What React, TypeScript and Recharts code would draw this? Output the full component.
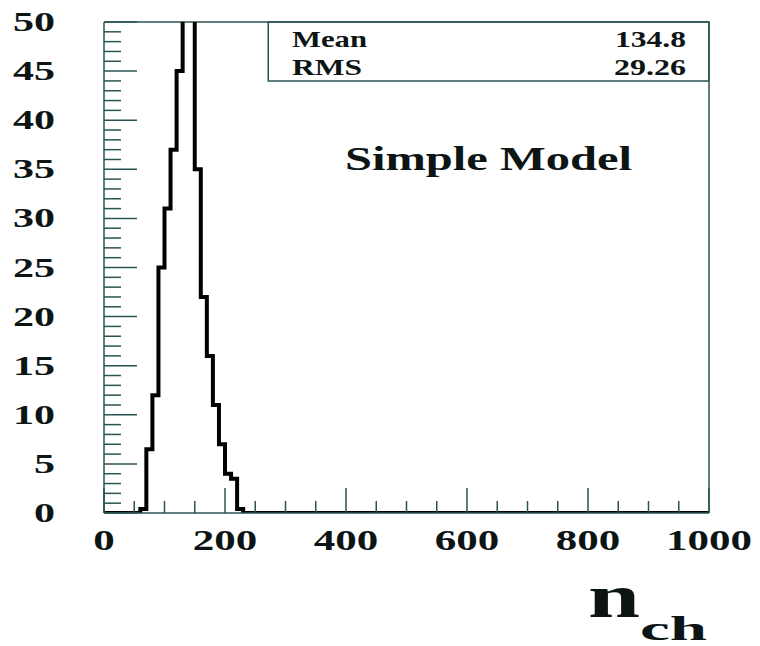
import { ComposedChart, Line, XAxis, YAxis, ReferenceLine, ReferenceArea } from "recharts";

// histogram of charged multiplicity, 10-wide bins (left edge -> content)
const binLeft = [0, 60, 70, 80, 90, 100, 110, 120, 130, 140, 150, 160, 170, 180, 190, 200, 210, 220, 230];
const binCount = [0, 0.4, 6.5, 12, 25, 31, 37, 45, 64, 62, 35, 22, 16, 11, 7, 4, 3.5, 0.4, 0];
const X_MAX = 1000;

const xTicks = [0, 50, 100, 150, 200, 250, 300, 350, 400, 450, 500, 550, 600, 650, 700, 750, 800, 850, 900, 950, 1000];
const xLabelEvery = 200;
const yTicks = Array.from({ length: 51 }, (_, i) => i);
const yLabelEvery = 5;

const statsLabels = ["Mean", "RMS"];
const statsValues = ["134.8", "29.26"];
const title = "Simple Model";

const data = binLeft.map((x, i) => ({ x, count: binCount[i] })).concat([{ x: X_MAX, count: 0 }]);

const AXIS = "#2b5353";
const FONT = "'Liberation Serif', 'Times New Roman', serif";
const INK = "#0d1414";

const YTick = (props: any) => {
  const { x, y, payload } = props;
  const v = payload.value;
  const major = v % yLabelEvery === 0;
  return (
    <g>
      <line x1={x} x2={x + (major ? 33 : 17)} y1={y} y2={y} stroke={AXIS} strokeWidth={1.5} />
      {major && (
        <text
          x={x - 49}
          y={y}
          dy={9}
          textAnchor="end"
          fontFamily={FONT}
          fontWeight="bold"
          fontSize={27}
          fill={INK}
          textLength={String(v).length * 21}
          lengthAdjust="spacingAndGlyphs"
        >
          {v}
        </text>
      )}
    </g>
  );
};

const XTick = (props: any) => {
  const { x, y, payload } = props;
  const v = payload.value;
  const major = v % xLabelEvery === 0;
  return (
    <g>
      <line x1={x} x2={x} y1={y} y2={y - (major ? 25 : 12)} stroke={AXIS} strokeWidth={1.5} />
      {major && (
        <text
          x={x}
          y={y + 37}
          textAnchor="middle"
          fontFamily={FONT}
          fontWeight="bold"
          fontSize={29}
          fill={INK}
          textLength={String(v).length * 21.5}
          lengthAdjust="spacingAndGlyphs"
        >
          {v}
        </text>
      )}
    </g>
  );
};

const txt = { fontFamily: FONT, fontWeight: "bold" as const, fill: INK, lengthAdjust: "spacingAndGlyphs" };

export default function App() {
  return (
    <div style={{ width: 760, height: 646, background: "#fff" }}>
      <style>{`body{margin:0}`}</style>
      <ComposedChart width={760} height={646} data={data} margin={{ top: 22, right: 51, bottom: 93, left: 0 }}>
        <XAxis
          type="number"
          dataKey="x"
          domain={[0, X_MAX]}
          ticks={xTicks}
          interval={0}
          tickSize={0}
          tickMargin={0}
          height={40}
          axisLine={{ stroke: AXIS, strokeWidth: 1.5 }}
          tick={<XTick />}
        />
        <YAxis
          type="number"
          domain={[0, 50]}
          allowDataOverflow
          ticks={yTicks}
          interval={0}
          tickSize={0}
          tickMargin={0}
          width={104}
          axisLine={{ stroke: AXIS, strokeWidth: 1.5 }}
          tick={<YTick />}
        />
        <ReferenceLine y={50} stroke={AXIS} strokeWidth={1.5} />
        <ReferenceLine x={X_MAX} stroke={AXIS} strokeWidth={1.5} />
        <ReferenceArea x1={271.5} x2={X_MAX} y1={44} y2={50} fill="none" stroke={AXIS} strokeWidth={1.5} />
        <Line
          dataKey="count"
          type="stepAfter"
          stroke="#000"
          strokeWidth={4}
          dot={false}
          activeDot={false}
          isAnimationActive={false}
        />
        <text x={292} y={46.5} fontSize={24} textLength={75} {...txt}>{statsLabels[0]}</text>
        <text x={292} y={75} fontSize={24} textLength={70} {...txt}>{statsLabels[1]}</text>
        <text x={686} y={46.5} fontSize={24} textAnchor="end" textLength={71} {...txt}>{statsValues[0]}</text>
        <text x={686} y={75} fontSize={24} textAnchor="end" textLength={72} {...txt}>{statsValues[1]}</text>
        <text x={345} y={170} fontSize={33} textLength={287} {...txt}>{title}</text>
        <text x={588} y={617} fontSize={62} textLength={52} {...txt}>n</text>
        <text x={640} y={640} fontSize={34} textLength={67} {...txt}>ch</text>
      </ComposedChart>
    </div>
  );
}
